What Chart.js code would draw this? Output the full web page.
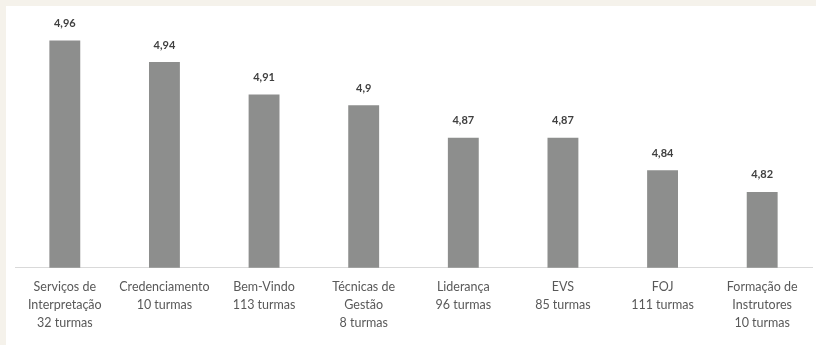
<!DOCTYPE html>
<html>
<head>
<meta charset="utf-8">
<script src="https://cdn.jsdelivr.net/npm/chart.js@4/dist/chart.umd.min.js"></script>
<style>
  html, body { margin: 0; padding: 0; background: #f5f2eb; }
  #panel { position: absolute; left: 6px; top: 6px; width: 810px; height: 339px; background: #fff; }
</style>
</head>
<body>
<div id="panel"><canvas id="chart" width="810" height="339"></canvas></div>
<script>
const categories = [
  ["Serviços de", "Interpretação", "32 turmas"],
  ["Credenciamento", "10 turmas"],
  ["Bem-Vindo", "113 turmas"],
  ["Técnicas de", "Gestão", "8 turmas"],
  ["Liderança", "96 turmas"],
  ["EVS", "85 turmas"],
  ["FOJ", "111 turmas"],
  ["Formação de", "Instrutores", "10 turmas"]
];
const scores = [4.96, 4.94, 4.91, 4.9, 4.87, 4.87, 4.84, 4.82];

// value labels above each bar, decimal comma
const valueLabels = {
  id: "valueLabels",
  afterDatasetsDraw(chart) {
    const ctx = chart.ctx;
    const meta = chart.getDatasetMeta(0);
    ctx.save();
    ctx.font = "bold 11px Lato, 'Open Sans', sans-serif";
    ctx.fillStyle = "#404040";
    ctx.textAlign = "center";
    ctx.textBaseline = "middle";
    meta.data.forEach((bar, i) => {
      ctx.fillText(String(scores[i]).replace(".", ","), bar.x, bar.y - 17);
    });
    ctx.restore();
  }
};

new Chart(document.getElementById("chart"), {
  type: "bar",
  data: {
    labels: categories,
    datasets: [{
      data: scores,
      backgroundColor: "#8d8e8d",
      barPercentage: 0.62,
      categoryPercentage: 0.5
    }]
  },
  options: {
    responsive: false,
    animation: false,
    layout: { padding: { left: 9, right: 4, top: 2, bottom: 3 } },
    plugins: { legend: { display: false }, tooltip: { enabled: false } },
    scales: {
      x: {
        grid: { display: false, drawTicks: false },
        border: { display: true, color: "#d9d9d9", width: 1 },
        ticks: {
          color: "#595959",
          font: { family: "Lato, 'Open Sans', sans-serif", size: 12.5, lineHeight: 1.45 },
          padding: 10,
          maxRotation: 0,
          autoSkip: false
        }
      },
      y: {
        display: false,
        min: 4.75,
        max: 4.99
      }
    }
  },
  plugins: [valueLabels]
});
</script>
</body>
</html>
